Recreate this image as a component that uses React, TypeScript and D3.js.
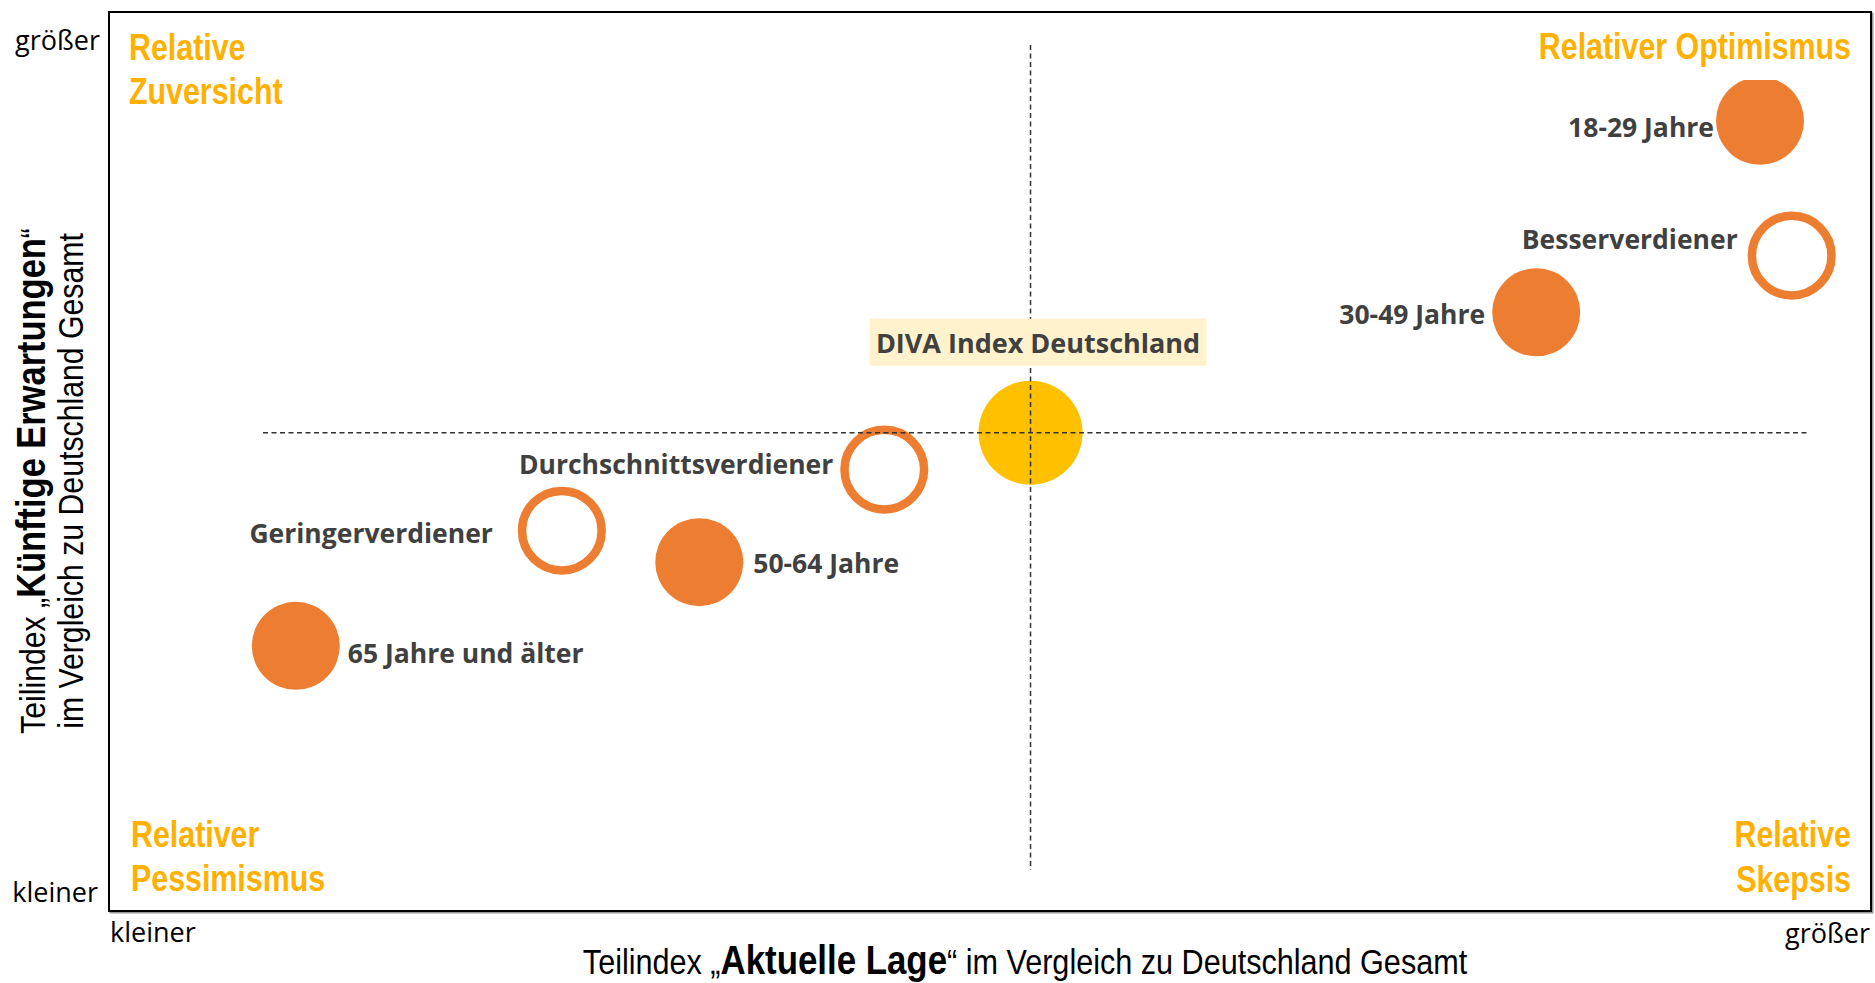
import React from "react";
import * as d3 from "d3";

// ---------- data ----------
const groups = [
  "18-29 Jahre",
  "30-49 Jahre",
  "50-64 Jahre",
  "65 Jahre und älter",
  "Geringerverdiener",
  "Durchschnittsverdiener",
  "Besserverdiener",
];
// Teilindex "Aktuelle Lage" (relative position, 0 = kleiner, 100 = größer)
const aktuelleLage = [93.7, 81.0, 33.5, 10.6, 25.7, 44.0, 95.5];
// Teilindex "Künftige Erwartungen" (relative position, 0 = kleiner, 100 = größer)
const kuenftigeErwartungen = [87.9, 66.6, 38.8, 29.5, 42.3, 49.1, 72.9];
// Gruppentyp: Alter (gefüllt) / Einkommen (Ring)
const groupTypes = ["Alter", "Alter", "Alter", "Alter", "Einkommen", "Einkommen", "Einkommen"];

const divaName = "DIVA Index Deutschland";
const divaAktuelleLage = 52.3;
const divaKuenftigeErwartungen = 53.2;

const quadrantLabels = [
  ["Relative", "Zuversicht"],
  ["Relativer Optimismus"],
  ["Relativer", "Pessimismus"],
  ["Relative", "Skepsis"],
];
const axisEndLabels = ["kleiner", "größer"];

// ---------- styling / layout ----------
const W = 1875;
const H = 983;
const plot = { left: 109, top: 12, right: 1871, bottom: 911 };
const ORANGE = "#ED7D31";
const YELLOW = "#FFC000";
const QUAD = "#FFB000";
const LABEL = "#404040";
const labelFont = "'Open Sans', 'Noto Sans', sans-serif";
const arial = "'Liberation Sans', Arial, sans-serif";
const LABEL_SIZE = 26.5;

// label offsets relative to marker centre: [dx, dy, anchor]
const labelLayout: [number, number, "start" | "end"][] = [
  [-46, 16, "end"],
  [-51, 12, "end"],
  [54, 11, "start"],
  [52, 17, "start"],
  [-69, 12, "end"],
  [-51, 4, "end"],
  [-54, -7, "end"],
];

export default function App() {
  const x = d3.scaleLinear().domain([0, 100]).range([plot.left, plot.right]);
  const y = d3.scaleLinear().domain([0, 100]).range([plot.bottom, plot.top]);

  const cx = x(divaAktuelleLage);
  const cy = y(divaKuenftigeErwartungen);

  const points = groups.map((g, i) => ({
    name: g,
    px: x(aktuelleLage[i]),
    py: y(kuenftigeErwartungen[i]),
    type: groupTypes[i],
    layout: labelLayout[i],
  }));

  const quadStyle = {
    fontFamily: arial,
    fontWeight: 700,
    fontSize: 37.5,
    fill: QUAD,
  } as const;
  const qs = 0.81;

  return (
    <svg
      width={W}
      height={H}
      viewBox={`0 0 ${W} ${H}`}
      style={{ position: "absolute", left: 0, top: 0, display: "block", background: "#fff" }}
    >
      {/* frame */}
      <rect
        x={plot.left + 1.5}
        y={plot.top + 1.5}
        width={plot.right - plot.left}
        height={plot.bottom - plot.top}
        fill="none"
        stroke="#9a9a9a"
        strokeWidth={2}
      />
      <rect
        x={plot.left}
        y={plot.top}
        width={plot.right - plot.left}
        height={plot.bottom - plot.top}
        fill="#fff"
        stroke="#000"
        strokeWidth={2}
      />

      {/* markers */}
      {points.map((p) =>
        p.type === "Alter" ? (
          <circle key={p.name} cx={p.px} cy={p.py} r={44} fill={ORANGE} />
        ) : (
          <circle
            key={p.name}
            cx={p.px}
            cy={p.py}
            r={39.8}
            fill="none"
            stroke={ORANGE}
            strokeWidth={8.5}
          />
        )
      )}
      <circle cx={cx} cy={cy} r={52} fill={YELLOW} />

      {/* reference cross */}
      <line x1={cx} x2={cx} y1={45} y2={870} stroke="#333" strokeWidth={1.5} strokeDasharray="5 3.5" />
      <line x1={263} x2={1808} y1={cy} y2={cy} stroke="#333" strokeWidth={1.5} strokeDasharray="5 3.5" />

      {/* DIVA label */}
      <rect x={cx - 161} y={cy - 114} width={337} height={47} fill="#FFF2CC" />
      <text
        x={cx + 7.5}
        y={cy - 80}
        textAnchor="middle"
        fontFamily={labelFont}
        fontWeight={700}
        fontSize={27}
        fill={LABEL}
      >
        {divaName}
      </text>

      {/* group labels */}
      {points.map((p) => (
        <text
          key={"l" + p.name}
          x={p.px + p.layout[0]}
          y={p.py + p.layout[1]}
          textAnchor={p.layout[2]}
          fontFamily={labelFont}
          fontWeight={700}
          fontSize={LABEL_SIZE}
          fill={LABEL}
        >
          {p.name}
        </text>
      ))}

      {/* quadrant labels */}
      <g transform={`translate(129,60) scale(${qs},1)`}>
        <text {...quadStyle}>
          <tspan x={0} y={0}>{quadrantLabels[0][0]}</tspan>
          <tspan x={0} y={44}>{quadrantLabels[0][1]}</tspan>
        </text>
      </g>
      <rect x={1528} y={20} width={335} height={60} fill="#fff" />
      <g transform={`translate(1851,59) scale(${qs},1)`}>
        <text {...quadStyle} textAnchor="end">
          {quadrantLabels[1][0]}
        </text>
      </g>
      <g transform={`translate(131,847) scale(${qs},1)`}>
        <text {...quadStyle}>
          <tspan x={0} y={0}>{quadrantLabels[2][0]}</tspan>
          <tspan x={0} y={44}>{quadrantLabels[2][1]}</tspan>
        </text>
      </g>
      <g transform={`translate(1851,847) scale(${qs},1)`}>
        <text {...quadStyle} textAnchor="end">
          <tspan x={0} y={0}>{quadrantLabels[3][0]}</tspan>
          <tspan x={0} y={45}>{quadrantLabels[3][1]}</tspan>
        </text>
      </g>

      {/* axis end labels */}
      <g fontFamily={labelFont} fontSize={27} fill="#000">
        <text x={100} y={50} textAnchor="end">{axisEndLabels[1]}</text>
        <text x={98} y={902} textAnchor="end">{axisEndLabels[0]}</text>
        <text x={110} y={942}>{axisEndLabels[0]}</text>
        <text x={1870} y={943} textAnchor="end">{axisEndLabels[1]}</text>
      </g>

      {/* x axis title */}
      <g transform={`translate(1025,974) scale(0.85,1)`}>
        <text textAnchor="middle" fontFamily={arial} fontSize={36} fill="#000">
          Teilindex „<tspan fontWeight={700} fontSize={41}>Aktuelle Lage</tspan>“ im Vergleich zu Deutschland Gesamt
        </text>
      </g>

      {/* y axis title */}
      <g transform={`translate(45,481) rotate(-90) scale(0.84,1)`}>
        <text textAnchor="middle" fontFamily={arial} fontSize={36} fill="#000">
          Teilindex „<tspan fontWeight={700} fontSize={41}>Künftige Erwartungen</tspan>“
        </text>
      </g>
      <g transform={`translate(83,481) rotate(-90) scale(0.84,1)`}>
        <text textAnchor="middle" fontFamily={arial} fontSize={36} fill="#000">
          im Vergleich zu Deutschland Gesamt
        </text>
      </g>
    </svg>
  );
}
